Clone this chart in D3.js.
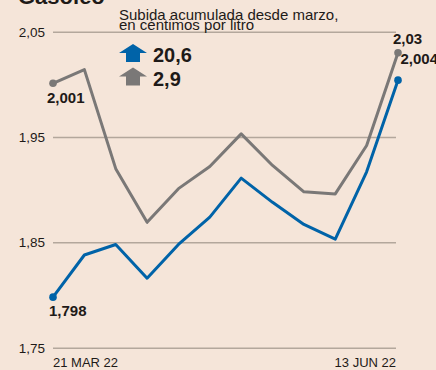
<!DOCTYPE html>
<html>
<head>
<meta charset="utf-8">
<script src="https://cdn.jsdelivr.net/npm/d3@7"></script>
<style>
  html, body { margin: 0; padding: 0; background: #f5e5d9; }
  svg { display: block; }
  text { font-family: "Liberation Sans", Arial, sans-serif; fill: #1e1a18; }
</style>
</head>
<body>
<svg id="chart" width="436" height="370"></svg>
<script>
// Weekly diesel price (€/litre)
const weeks = ["21 MAR 22", "", "", "", "", "", "", "", "", "", "", "13 JUN 22"];
const seriesBlue = [1.798, 1.838, 1.848, 1.816, 1.848, 1.874, 1.911, 1.888, 1.867, 1.853, 1.917, 2.004];
const seriesGray = [2.001, 2.014, 1.920, 1.869, 1.901, 1.922, 1.953, 1.923, 1.898, 1.896, 1.942, 2.030];
const yTicks = [1.75, 1.85, 1.95, 2.05];
const rises = [20.6, 2.9];
const title = "Gasóleo";
const legendLines = ["Subida acumulada desde marzo,", "en céntimos por litro"];

const BLUE = "#0063a8", GRAY = "#7a7877", GRID = "#b3a79c";
const fmt = v => String(v).replace(".", ",");

const svg = d3.select("#chart");
const x = d3.scalePoint().domain(d3.range(weeks.length)).range([53, 398]);
const y = d3.scaleLinear().domain([1.75, 2.05]).range([347.7, 31.7]);

// title (partly above the frame)
svg.append("text").attr("x", 18).attr("y", 4)
  .attr("font-size", 22).attr("font-weight", 700).text(title);

// horizontal grid + tick labels
const yAxis = d3.axisLeft(y).tickValues(yTicks).tickSize(-343).tickFormat(fmt).tickPadding(8);
const gy = svg.append("g").attr("transform", "translate(53,0)").call(yAxis);
gy.select(".domain").remove();
gy.selectAll(".tick line").attr("stroke", GRID).attr("stroke-width", 1.5);
gy.selectAll(".tick text").attr("font-size", 13.5).attr("fill", "#1e1a18")
  .attr("font-family", "Liberation Sans, Arial, sans-serif");

// x labels at first and last week
svg.append("text").attr("x", x(0)).attr("y", 367).attr("font-size", 13).text(weeks[0]);
svg.append("text").attr("x", 396).attr("y", 367).attr("text-anchor", "end")
  .attr("font-size", 13).text(weeks[weeks.length - 1]);

// legend
const lg = svg.append("g");
legendLines.forEach((t, i) => {
  lg.append("text").attr("x", 119).attr("y", 20 + i * 10).attr("font-size", 15).text(t);
});
const arrow = "M0,9 L14,0 L28,9 L21,9 L21,18 L7,18 L7,9 Z";
[BLUE, GRAY].forEach((c, i) => {
  const top = 44 + i * 23.5;
  lg.append("path").attr("d", arrow).attr("fill", c)
    .attr("transform", `translate(119,${top})`);
  lg.append("text").attr("x", 153).attr("y", top + 18).attr("font-size", 20)
    .attr("font-weight", 700).text(fmt(rises[i]));
});

// lines
const line = d3.line().x((d, i) => x(i)).y(d => y(d));
[[seriesGray, GRAY], [seriesBlue, BLUE]].forEach(([s, c]) => {
  svg.append("path").datum(s).attr("d", line).attr("fill", "none")
    .attr("stroke", c).attr("stroke-width", 3).attr("stroke-linejoin", "round");
  [0, s.length - 1].forEach(i => {
    svg.append("circle").attr("cx", x(i)).attr("cy", y(s[i])).attr("r", 3.8).attr("fill", c);
  });
});

// end labels
const lab = (t, lx, ly) => svg.append("text").attr("x", lx).attr("y", ly)
  .attr("font-size", 15).attr("font-weight", 700).text(t);
lab(fmt(seriesGray[0]), 47, 102.5);
lab(fmt(seriesBlue[0]), 49, 315.5);
lab(fmt(seriesGray[11]), 393, 44.3);
lab(fmt(seriesBlue[11]), 400.5, 64.3);
</script>
</body>
</html>
